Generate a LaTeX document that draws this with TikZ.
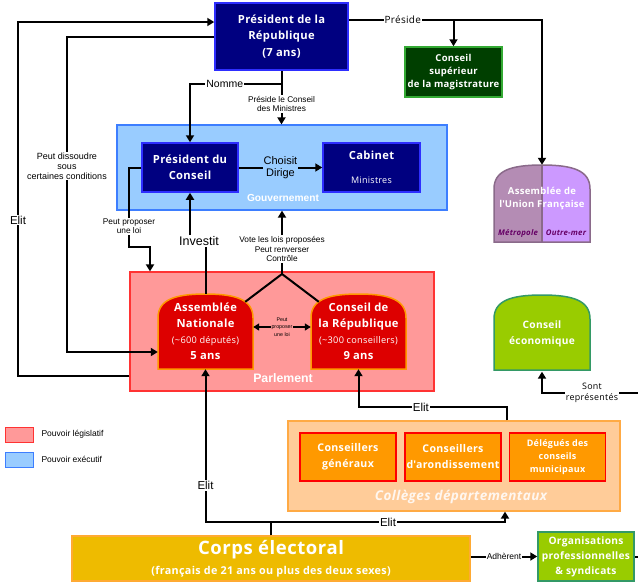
\documentclass[tikz,border=0pt]{standalone}
\usepackage{fontspec}
\setmainfont{Open Sans}[LetterSpace=3]
\newfontfamily\arialf{Liberation Sans}
\usetikzlibrary{arrows.meta}

\definecolor{navyf}{HTML}{000080}
\definecolor{navyd}{HTML}{2E2EFF}
\definecolor{gouvf}{HTML}{99CCFF}
\definecolor{gouvd}{HTML}{3D7EFF}
\definecolor{parlf}{HTML}{FF9999}
\definecolor{parld}{HTML}{FF3333}
\definecolor{domef}{HTML}{DD0000}
\definecolor{domed}{HTML}{FF9900}
\definecolor{csmf}{HTML}{003F00}
\definecolor{csmd}{HTML}{33AA33}
\definecolor{aufl}{HTML}{B48CB4}
\definecolor{aufr}{HTML}{CC99FF}
\definecolor{aufd}{HTML}{8A6A8A}
\definecolor{auft}{HTML}{660066}
\definecolor{vertf}{HTML}{99CC00}
\definecolor{vertd}{HTML}{339966}
\definecolor{collf}{HTML}{FFCC99}
\definecolor{colld}{HTML}{FFAA44}
\definecolor{orf}{HTML}{FF9900}
\definecolor{ord}{HTML}{FF0000}
\definecolor{corpsf}{HTML}{EEBB00}
\definecolor{corpsd}{HTML}{FFAA33}

\newcommand{\sml}{\arialf\fontsize{8.3}{9.5}\selectfont}
\newcommand{\tny}{\arialf\fontsize{5.3}{7.3}\selectfont}
% contour d'un dome : x1, y1, x2, y2
\newcommand{\dome}[4]{(#1,#4) -- (#1,#2+24) .. controls (#1,#2+6) and (#1+16,#2) .. ({(#1+#3)/2},#2) .. controls (#3-16,#2) and (#3,#2+6) .. (#3,#2+24) -- (#3,#4) -- cycle}

\begin{document}
\begin{tikzpicture}[x=1pt,y=-1pt,
  box/.style={draw,line width=1.5pt,align=center,text=white,inner sep=0pt,font=\bfseries\fontsize{11.2}{16.5}\selectfont},
  navy/.style={box,fill=navyf,draw=navyd},
  obox/.style={box,fill=orf,draw=ord,minimum width=96,minimum height=48,font=\bfseries\fontsize{10.6}{16}\selectfont},
  group/.style={draw,line width=1.2pt,inner sep=0pt},
  grouplbl/.style={text=white,font=\arialf\bfseries\fontsize{10.2}{11}\selectfont},
  dometxt/.style={align=center,text=white,inner sep=0pt,font=\bfseries\fontsize{11.2}{16}\selectfont},
  con/.style={line width=2pt},
  arr/.style={con,-{Triangle[length=7pt,width=8pt]}},
  lbl/.style={fill=white,inner sep=1pt,align=center,font=\arialf\fontsize{11.5}{12}\selectfont},
  legbox/.style={draw,line width=1pt,minimum width=28,minimum height=15,inner sep=0pt},
  legtxt/.style={anchor=west,font=\arialf\fontsize{8.5}{9}\selectfont}
]

% Cadre
\useasboundingbox (0,0) rectangle (638,582);
\fill[white] (0,0) rectangle (638,582);

% Groupes
\node[group,fill=gouvf,draw=gouvd,minimum width=330,minimum height=85] (gouv) at (282,167.5) {};
\node[group,fill=parlf,draw=parld,minimum width=304,minimum height=119] (parl) at (282,331.5) {};
\node[group,fill=collf,draw=colld,minimum width=332,minimum height=90] (coll) at (454,466) {};
\node[grouplbl] (gouvlbl) at (283,198) {Gouvernement};
\node[grouplbl,font=\arialf\bfseries\fontsize{12.3}{13}\selectfont] (parllbl) at (283,378) {Parlement};
\node[grouplbl,text=white!85!collf,font=\bfseries\itshape\fontsize{13.5}{15}\selectfont] (colllbl) at (461,497) {Collèges départementaux};

% Executif
\node[navy,minimum width=133,minimum height=67] (pdr) at (281.5,36.5) {Président de la\\République\\(7 ans)};
\node[box,fill=csmf,draw=csmd,minimum width=97,minimum height=50,font=\bfseries\fontsize{9.5}{13}\selectfont] (csm) at (453.5,72) {Conseil\\supérieur\\de la magistrature};
\node[navy,minimum width=96,minimum height=49] (pdc) at (190,167.5) {Président du\\Conseil};
\node[navy,minimum width=97,minimum height=49] (cab) at (371.5,167.5) {Cabinet\\[7pt]{\mdseries\fontsize{9}{10}\selectfont Ministres}};

% Assemblee de l'Union francaise
\fill[aufr] \dome{494}{165}{590}{242};
\begin{scope}
  \clip (490,160) rectangle (542,246);
  \fill[aufl] \dome{494}{165}{590}{242};
\end{scope}
\draw[line width=1.5pt,aufd] (542,165) -- (542,242);
\draw[line width=1.5pt,aufd] \dome{494}{165}{590}{242};
\node[minimum width=96,minimum height=77,inner sep=0pt] (auf) at (542,203.5) {};
\node[dometxt,font=\bfseries\fontsize{9.5}{13}\selectfont] (auftxt) at (542,198.5) {Assemblée de\\l\textquotesingle Union Française};
\node[text=auft,font=\bfseries\itshape\fontsize{7.8}{8}\selectfont] (met) at (518,233) {Métropole};
\node[text=auft,font=\bfseries\itshape\fontsize{7.8}{8}\selectfont] (om) at (566,233) {Outre-mer};

% Parlement
\draw[line width=1.5pt,draw=domed,fill=domef] \dome{158}{294}{253}{369};
\draw[line width=1.5pt,draw=domed,fill=domef] \dome{311}{294}{406}{369};
\node[dometxt,minimum width=95,minimum height=75] (an) at (205.5,331.5) {Assemblée\\Nationale\\{\mdseries\fontsize{9.2}{16}\selectfont(\textasciitilde600 députés)}\\5 ans};
\node[dometxt,minimum width=95,minimum height=75] (cr) at (358.5,331.5) {Conseil de\\la République\\{\mdseries\fontsize{9.2}{16}\selectfont(\textasciitilde300 conseillers)}\\9 ans};

% Conseil economique
\draw[line width=1.5pt,draw=vertd,fill=vertf] \dome{494}{295}{590}{370};
\node[dometxt,minimum width=96,minimum height=75,font=\bfseries\fontsize{10.2}{16}\selectfont] (ce) at (542,334) {Conseil\\économique};

% Colleges
\node[obox] (cg) at (348,457) {Conseillers\\généraux};
\node[obox] (ca) at (453,457) {Conseillers\\d\textquotesingle arondissement};
\node[obox,font=\bfseries\fontsize{9}{13}\selectfont] (dcm) at (557.5,457) {Délégués des\\conseils\\municipaux};

% Corps electoral
\node[box,fill=corpsf,draw=corpsd,minimum width=398,minimum height=45,font=\bfseries\fontsize{18.5}{20}\selectfont] (corps) at (271,558.5) {Corps électoral\\[0pt]{\fontsize{10.8}{12}\selectfont(français de 21 ans ou plus des deux sexes)}};
\node[box,fill=vertf,draw=vertd,minimum width=96,minimum height=49,font=\bfseries\fontsize{10.2}{15}\selectfont] (org) at (586,556.5) {Organisations\\professionnelles\\\& syndicats};

% Legende
\node[legbox,fill=parlf,draw=parld] (legp) at (19.5,434.5) {};
\node[legtxt] (legptxt) at (38,434.5) {Pouvoir législatif};
\node[legbox,fill=gouvf,draw=gouvd] (lege) at (19.5,459.5) {};
\node[legtxt] (legetxt) at (38,459.5) {Pouvoir exécutif};

% Liens du President
\draw[arr] (parl.west |- 0,376) -- (18,376) -- node[lbl,pos=0.44]{Elit} (18,22) -- (pdr.west |- 18,22);
\draw[arr] (pdr.west) -- (67,36.5) -- node[lbl,pos=0.41,font=\arialf\fontsize{9}{10}\selectfont]{Peut dissoudre\\sous\\certaines conditions} (67,352) -- (an.west |- 0,352);
\draw[arr] (pdr.south) -- ++(0,13) -| node[lbl,pos=0.31,font=\arialf\fontsize{10.5}{11}\selectfont]{Nomme} (pdc.north);
\draw[arr] ([yshift=-13pt]pdr.south) -- node[lbl,font=\sml]{Préside le Conseil\\des Ministres} (pdr.south |- gouv.north);
\draw[arr] ([yshift=16.5pt]pdr.east) -| node[lbl,pos=0.14,font=\fontsize{10}{11}\selectfont]{Préside} (auf.north);
\draw[arr] (csm.north |- 0,20) -- (csm.north);

% Gouvernement
\draw[arr] (pdc.east) -- node[lbl,fill=gouvf,font=\arialf\fontsize{11}{12}\selectfont]{Choisit\\Dirige} (cab.west);
\draw[arr] (pdc.west) -- (129,167.5) -- node[lbl,pos=0.74,font=\sml]{Peut proposer\\une loi} (129,247) -- (150,247) -- (parl.north -| 150,247);
\node[lbl,fill=none,font=\arialf\fontsize{12.5}{13}\selectfont] (inv) at (199,241) {Investit};
\draw[con] (an.north) -- (an.north |- inv.south);
\draw[arr] (pdc.south |- inv.north) -- (pdc.south);
\coordinate (apex) at (282,274);
\node[lbl,fill=none,font=\sml] (vote) at (282,249) {Vote les lois proposées\\Peut renverser\\Contrôle};
\draw[con] ([xshift=-8pt,yshift=-8pt]an.north east) -- (apex) -- ([xshift=8pt,yshift=-8pt]cr.north west);
\draw[con] (apex) -- (vote.south);
\draw[arr] (vote.north) -- (gouv.south -| vote.north);
\draw[con,line width=1.5pt,{Triangle[length=6pt,width=7pt]}-{Triangle[length=6pt,width=7pt]}] ([yshift=4.5pt]an.east) -- node[lbl,fill=parlf,font=\tny]{Peut\\proposer\\une loi} ([yshift=4.5pt]cr.west);

% Elections
\draw[con] (corps.north) -- ++(0,-13) coordinate (ej);
\draw[arr] (ej) -| node[lbl,pos=0.62]{Elit} (an.south);
\draw[arr] (ej) -| node[lbl,pos=0.25]{Elit} (coll.south -| 505,0);
\draw[arr] (coll.north -| 507,0) -- (507,407) -| node[lbl,pos=0.29]{Elit} (cr.south);

% Organisations
\draw[arr] (corps.east |- org.west) -- node[lbl,font=\arialf\fontsize{8.5}{9}\selectfont]{Adhèrent} (org.west);
\draw[arr] (org.east) -- (640,556.5) -- (640,393) -| node[lbl,pos=0.245,font=\fontsize{8.9}{11}\selectfont]{Sont\\représentés} (ce.south);

\end{tikzpicture}
\end{document}
